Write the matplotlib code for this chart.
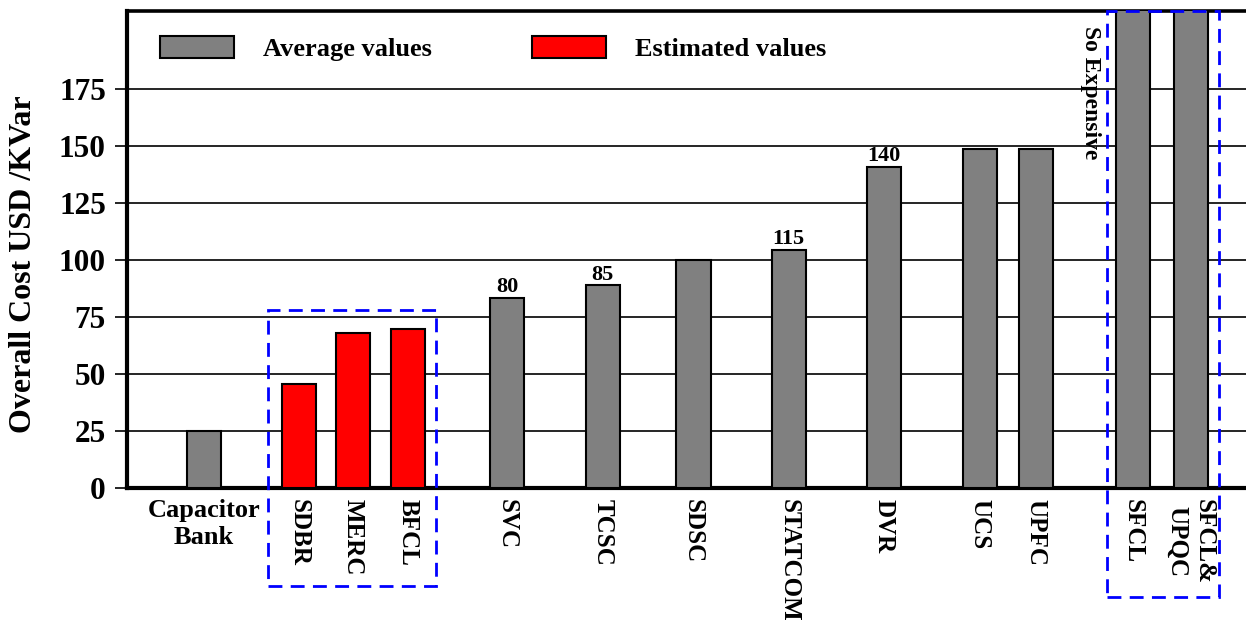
import numpy as np
import matplotlib
matplotlib.use('Agg')
import matplotlib.pyplot as plt
from matplotlib.patches import Rectangle

plt.rcParams['font.family'] = ['Liberation Serif', 'DejaVu Serif']
plt.rcParams['font.weight'] = 'bold'

# 장치별 비용 데이터 (USD/KVar)
devices = ['Capacitor\nBank', 'SDBR', 'MERC', 'BFCL', 'SVC', 'TCSC', 'SDSC',
           'STATCOM', 'DVR', 'UCS', 'UPFC', 'SFCL', 'SFCL&\nUPQC']
cost = [25, 45.5, 68, 70, 83.5, 89, 100, 104.5, 141, 149, 149, 215, 215]
estimated = [False, True, True, True, False, False, False,
             False, False, False, False, False, False]
value_text = ['', '', '', '', '80', '85', '', '115', '140', '', '', '', '']
y_ticks = [0, 25, 50, 75, 100, 125, 150, 175]

# 막대 간격 (레이아웃)
step = [0, 1.73, 0.98, 1.0, 1.8, 1.74, 1.65, 1.73, 1.73, 1.75, 1.02, 1.76, 1.05]
pos = np.cumsum(step)
est = np.array(estimated)
cost = np.array(cost)

fig = plt.figure(figsize=(12.46, 6.22), dpi=100)
ax = fig.add_axes([0.1017, 0.2154, 0.8983, 0.7674])

ax.bar(pos[~est], cost[~est], width=0.62, color='#808080', edgecolor='black',
       linewidth=1.5, label='Average values', zorder=3)
ax.bar(pos[est], cost[est], width=0.62, color='#ff0000', edgecolor='black',
       linewidth=1.5, label='Estimated values', zorder=3)

# 막대 위 숫자
for i, t in enumerate(value_text):
    if t:
        ax.annotate(t, (pos[i], cost[i]), xytext=(0, 0.5), textcoords='offset points',
                    ha='center', va='bottom', fontsize=16, fontweight='bold')

ax.set_ylim(0, 209.5)
ax.set_xlim(-1.405, 18.945)
ax.set_yticks(y_ticks)
ax.yaxis.grid(True, color='black', linewidth=1.2)
ax.set_axisbelow(True)
ax.tick_params(axis='y', length=9, width=1.2, pad=6, labelsize=22.5)
ax.tick_params(axis='x', length=0, pad=8, labelsize=18)

ax.set_xticks(pos, devices, rotation=-90, ha='center', va='top')
xl = ax.get_xticklabels()
xl[0].set_rotation(0)
xl[0].set_multialignment('center')
xl[0].set_fontsize(19)

ax.set_ylabel('Overall Cost USD /KVar', fontsize=23, fontweight='bold')
ax.yaxis.set_label_coords(-0.079, 0.468)

for s in ['left', 'bottom']:
    ax.spines[s].set_linewidth(3)
ax.spines['top'].set_linewidth(2.6)
ax.spines['right'].set_visible(False)

# 파란 점선 박스
box_kw = dict(fill=False, edgecolor='#0000ff', linewidth=2, linestyle=(0, (5, 3)),
              clip_on=False, zorder=5)
ax.add_patch(Rectangle((1.158, -42.8), 4.218 - 1.158, 78.1 + 42.8, **box_kw))
ax.add_patch(Rectangle((16.413, -47.7), 18.455 - 16.413, 209.5 + 47.7, **box_kw))

ax.text(16.11, 173.3, 'So Expensive', rotation=-90, ha='center', va='center',
        fontsize=17, fontweight='bold')

ax.legend(loc='upper left', bbox_to_anchor=(0.118, 0.963), bbox_transform=fig.transFigure,
          ncol=2, frameon=False, borderpad=0, fontsize=19, handlelength=2.8,
          handleheight=0.9, handletextpad=1.1, columnspacing=3.8)

plt.savefig('out.png', dpi=100)
